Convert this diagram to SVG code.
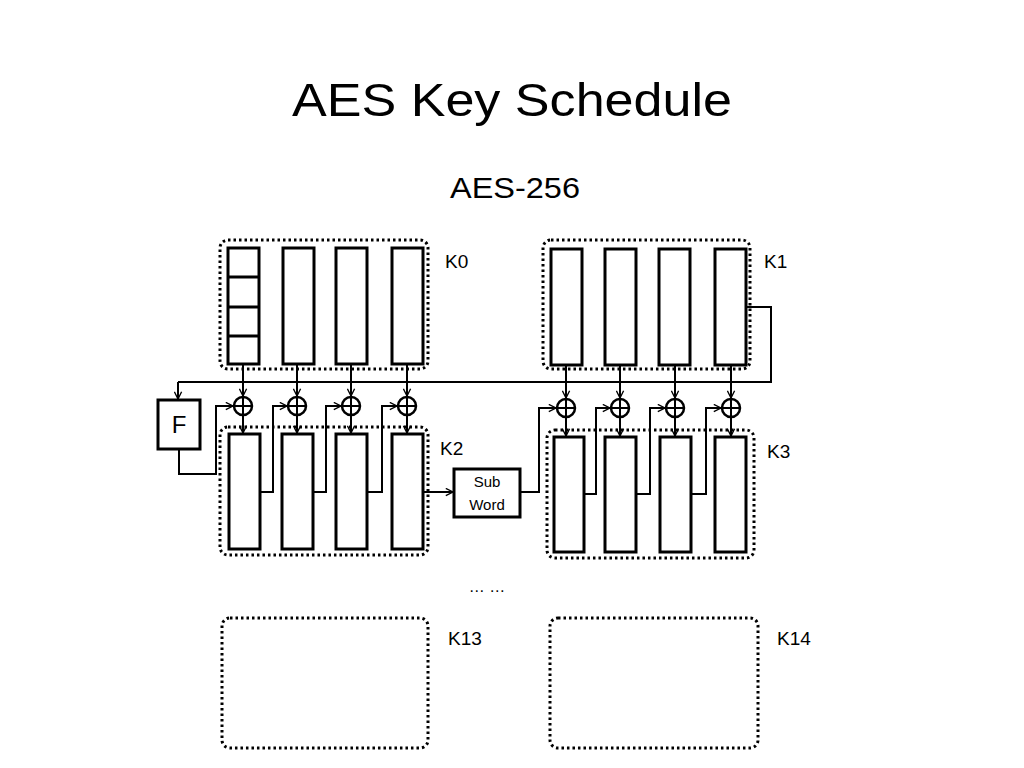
<svg xmlns="http://www.w3.org/2000/svg" width="1024" height="768" viewBox="0 0 1024 768">
<defs>
<marker id="ah" viewBox="0 0 10 10" refX="9" refY="5" markerWidth="9" markerHeight="9" markerUnits="userSpaceOnUse" orient="auto"><path d="M1,1 L9,5 L1,9" fill="none" stroke="#000" stroke-width="1.5"/></marker>
<style>
.dot{fill:none;stroke:#000;stroke-width:3;stroke-dasharray:2.5 3}
.col{fill:#fff;stroke:#000;stroke-width:3}
.ln{fill:none;stroke:#000;stroke-width:2}
.ar{fill:none;stroke:#000;stroke-width:2;marker-end:url(#ah)}
.x{fill:#fff;stroke:#000;stroke-width:2.5}
text{font-family:"Liberation Sans",Arial,sans-serif;fill:#000}
</style>
</defs>
<rect width="1024" height="768" fill="#fff"/>
<text x="512" y="116" font-size="46" text-anchor="middle" textLength="440" lengthAdjust="spacingAndGlyphs">AES Key Schedule</text>
<text x="515" y="198" font-size="29" text-anchor="middle" textLength="130" lengthAdjust="spacingAndGlyphs">AES-256</text>

<g id="K0">
<rect class="dot" x="220" y="240" width="208" height="129" rx="8"/>
<rect class="col" x="228" y="248" width="31" height="116"/>
<path class="col" d="M228,277H259M228,307H259M228,336H259"/>
<rect class="col" x="283" y="248" width="31" height="116"/>
<rect class="col" x="336" y="248" width="31" height="116"/>
<rect class="col" x="392" y="248" width="31" height="116"/>
<text x="445" y="268" font-size="19">K0</text>
</g>
<g id="K1">
<rect class="dot" x="543" y="240" width="207" height="129" rx="8"/>
<rect class="col" x="551" y="249" width="31" height="116"/>
<rect class="col" x="605" y="249" width="31" height="116"/>
<rect class="col" x="659" y="249" width="31" height="116"/>
<rect class="col" x="715" y="249" width="31" height="116"/>
<text x="764" y="268" font-size="19">K1</text>
</g>
<g id="K2">
<rect class="dot" x="220" y="427" width="208" height="128" rx="8"/>
<rect class="col" x="229" y="434" width="31" height="115"/>
<rect class="col" x="282" y="434" width="31" height="115"/>
<rect class="col" x="336" y="434" width="31" height="115"/>
<rect class="col" x="392" y="434" width="31" height="115"/>
<text x="440" y="455" font-size="19">K2</text>
</g>
<g id="K3">
<rect class="dot" x="547" y="430" width="207" height="128" rx="8"/>
<rect class="col" x="554" y="437" width="30" height="115"/>
<rect class="col" x="605" y="437" width="31" height="115"/>
<rect class="col" x="660" y="437" width="31" height="115"/>
<rect class="col" x="715" y="437" width="31" height="115"/>
<text x="767" y="458" font-size="19">K3</text>
</g>
<g id="F">
<rect class="col" x="158" y="400" width="42" height="49" stroke-width="2"/>
<text x="179" y="433" font-size="24" text-anchor="middle">F</text>
</g>
<g id="SubWord">
<rect class="col" x="454" y="469" width="66" height="48" stroke-width="2"/>
<text x="487" y="487" font-size="15" text-anchor="middle">Sub</text>
<text x="487" y="510" font-size="15" text-anchor="middle">Word</text>
</g>
<text x="487" y="592" font-size="16" text-anchor="middle">… …</text>
<g id="K13">
<rect class="dot" x="222" y="618" width="206" height="130" rx="8"/>
<text x="448" y="645" font-size="19">K13</text>
</g>
<g id="K14">
<rect class="dot" x="550" y="618" width="208" height="130" rx="8"/>
<text x="777" y="645" font-size="19">K14</text>
</g>

<g id="connectors">
<path class="ln" d="M746,307H771V382H178"/>
<path class="ar" d="M178,382V399"/>
<path class="ar" d="M179,449V474H216V406H233"/>
<path class="ar" d="M243,364V396"/><path class="ar" d="M243,416V433"/>
<path class="ar" d="M297,364V396"/><path class="ar" d="M297,416V433"/>
<path class="ar" d="M351,364V396"/><path class="ar" d="M351,416V433"/>
<path class="ar" d="M407,364V396"/><path class="ar" d="M407,416V433"/>
<path class="ar" d="M260,492H273V406H287"/>
<path class="ar" d="M313,492H326V406H341"/>
<path class="ar" d="M367,492H382V406H397"/>
<path class="ar" d="M423,492H453"/>
<path class="ar" d="M520,492H539V408H556"/>
<path class="ar" d="M566,365V398"/><path class="ar" d="M566,418V436"/>
<path class="ar" d="M620,365V398"/><path class="ar" d="M620,418V436"/>
<path class="ar" d="M675,365V398"/><path class="ar" d="M675,418V436"/>
<path class="ar" d="M731,365V398"/><path class="ar" d="M731,418V436"/>
<path class="ar" d="M584,494H596V408H610"/>
<path class="ar" d="M636,494H650V408H665"/>
<path class="ar" d="M691,494H706V408H721"/>
<g id="xors">
<circle class="x" cx="243" cy="406" r="9"/><path class="ln" d="M234,406H252M243,397V415"/>
<circle class="x" cx="297" cy="406" r="9"/><path class="ln" d="M288,406H306M297,397V415"/>
<circle class="x" cx="351" cy="406" r="9"/><path class="ln" d="M342,406H360M351,397V415"/>
<circle class="x" cx="407" cy="406" r="9"/><path class="ln" d="M398,406H416M407,397V415"/>
<circle class="x" cx="566" cy="408" r="9"/><path class="ln" d="M557,408H575M566,399V417"/>
<circle class="x" cx="620" cy="408" r="9"/><path class="ln" d="M611,408H629M620,399V417"/>
<circle class="x" cx="675" cy="408" r="9"/><path class="ln" d="M666,408H684M675,399V417"/>
<circle class="x" cx="731" cy="408" r="9"/><path class="ln" d="M722,408H740M731,399V417"/>
</g>
</g>
</svg>
